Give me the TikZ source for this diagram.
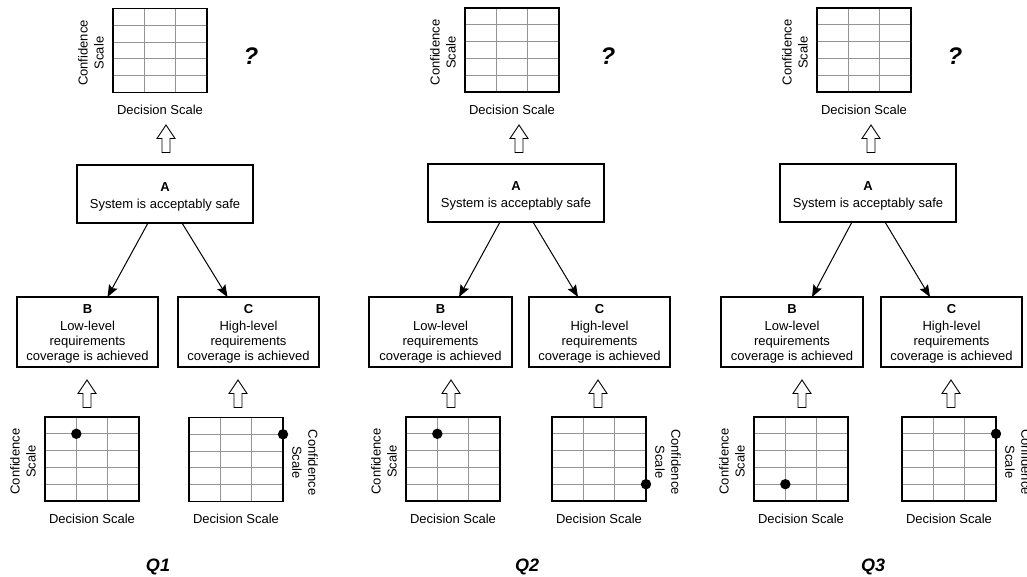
\documentclass[tikz,border=0pt]{standalone}
\usepackage{fontspec}
\setmainfont{Liberation Sans}
\usetikzlibrary{calc,arrows.meta}
\tikzset{
  box/.style={draw, line width=1.1pt, anchor=north west, inner sep=0pt, outer sep=0pt,
    align=center, font=\fontsize{13}{15}\selectfont},
  gridbox/.style={anchor=north west, inner sep=0pt, outer sep=0pt, minimum width=94pt, minimum height=84pt},
  gridline/.style={line width=0.9pt, draw=black!42},
  gridborder/.style={line width=1.6pt, draw=black},
  conn/.style={line width=1pt, -{Stealth[length=12pt,width=9.5pt,inset=2pt]}},
  scalelabel/.style={align=center, inner sep=0pt, font=\fontsize{13}{16}\selectfont},
  declabel/.style={inner sep=0pt, font=\fontsize{13}{15}\selectfont},
  qmark/.style={inner sep=0pt, font=\fontsize{24}{26}\selectfont\bfseries\itshape},
  qlabel/.style={inner sep=0pt, font=\fontsize{18}{20}\selectfont\bfseries\itshape},
  uparr/.pic={\draw[line width=0.9pt, fill=white, line join=miter]
    (0,0) -- (9,13.5) -- (4,13.5) -- (4,27.5) -- (-4,27.5) -- (-4,13.5) -- (-9,13.5) -- cycle;}
}
\newcommand{\scalegrid}[3]{%
  \node[gridbox] (#1) at (#2,#3) {};
  \foreach \i in {1,2} \draw[gridline] ($(#1.north west)+(\i*94/3,0)$) -- ($(#1.south west)+(\i*94/3,0)$);
  \foreach \j in {1,...,4} \draw[gridline] ($(#1.north west)+(0,\j*16.8)$) -- ($(#1.north east)+(0,\j*16.8)$);
  \draw[gridborder] (#1.north west) rectangle (#1.south east);
  \node[declabel] (#1dec) at ($(#1.south)+(0,17.5)$) {Decision Scale};
}
\newcommand{\leftlabel}[1]{\node[scalelabel, rotate=90] (#1conf) at ($(#1.west)+(-22,2.5)$) {Confidence\\Scale};}
\newcommand{\rightlabel}[1]{\node[scalelabel, rotate=-90] (#1conf) at ($(#1.east)+(22,3)$) {Confidence\\Scale};}
\newcommand{\gdot}[3]{\fill ($(#1.north west)+(#2*94/3,#3*16.8)$) circle[radius=5.2];}
\newcommand{\atext}{\rule{0pt}{15pt}\textbf{A}\\[2pt]System is acceptably safe}
\newcommand{\btext}{\rule{0pt}{12.5pt}\textbf{B}\\[2pt]Low-level\\requirements\\coverage is achieved}
\newcommand{\ctext}{\rule{0pt}{12.5pt}\textbf{C}\\[2pt]High-level\\requirements\\coverage is achieved}
\begin{document}
\begin{tikzpicture}[x=1pt,y=-1pt]
\useasboundingbox (0,0) rectangle (1027,577);
% ---------- Q1 ----------
\scalegrid{T1}{113}{8.5}\leftlabel{T1}
\node[qmark] (q1m) at (251,56) {?};
\pic at (166,125) {uparr};
\node[box, minimum width=176pt, minimum height=58pt] (A1) at (77,165) {\atext};
\node[box, minimum width=141pt, minimum height=70pt] (B1) at (17,297) {\btext};
\node[box, minimum width=141pt, minimum height=70pt] (C1) at (178,297) {\ctext};
\draw[conn] ([xshift=-17pt]A1.south) -- ([xshift=20pt]B1.north);
\draw[conn] ([xshift=17pt]A1.south) -- ([xshift=-21pt]C1.north);
\pic at (87,380) {uparr};
\pic at (238,380) {uparr};
\scalegrid{L1}{45}{417}\leftlabel{L1}\gdot{L1}{1}{1}
\scalegrid{R1}{189}{417.5}\rightlabel{R1}\gdot{R1}{3}{1}
\node[qlabel] (Q1) at (158,567) {Q1};
% ---------- Q2 ----------
\scalegrid{T2}{465}{8}\leftlabel{T2}
\node[qmark] (q2m) at (608,56) {?};
\pic at (519,125) {uparr};
\node[box, minimum width=176pt, minimum height=58pt] (A2) at (428,164) {\atext};
\node[box, minimum width=143pt, minimum height=70pt] (B2) at (369,297) {\btext};
\node[box, minimum width=141pt, minimum height=70pt] (C2) at (529,297) {\ctext};
\draw[conn] ([xshift=-16pt]A2.south) -- ([xshift=18.5pt]B2.north);
\draw[conn] ([xshift=17pt]A2.south) -- ([xshift=-21.5pt]C2.north);
\pic at (451,380) {uparr};
\pic at (598,380) {uparr};
\scalegrid{L2}{406}{417}\leftlabel{L2}\gdot{L2}{1}{1}
\scalegrid{R2}{552}{417}\rightlabel{R2}\gdot{R2}{3}{4}
\node[qlabel] (Q2) at (527,567) {Q2};
% ---------- Q3 ----------
\scalegrid{T3}{817}{8}\leftlabel{T3}
\node[qmark] (q3m) at (955,56) {?};
\pic at (871,125) {uparr};
\node[box, minimum width=176pt, minimum height=58pt] (A3) at (780,164) {\atext};
\node[box, minimum width=142pt, minimum height=70pt] (B3) at (721,297) {\btext};
\node[box, minimum width=141pt, minimum height=70pt] (C3) at (881,297) {\ctext};
\draw[conn] ([xshift=-16pt]A3.south) -- ([xshift=20pt]B3.north);
\draw[conn] ([xshift=17pt]A3.south) -- ([xshift=-21.5pt]C3.north);
\pic at (802,380) {uparr};
\pic at (951,380) {uparr};
\scalegrid{L3}{754}{417}\leftlabel{L3}\gdot{L3}{1}{4}
\scalegrid{R3}{902}{417}\rightlabel{R3}\gdot{R3}{3}{1}
\node[qlabel] (Q3) at (873,567) {Q3};
\end{tikzpicture}
\end{document}
